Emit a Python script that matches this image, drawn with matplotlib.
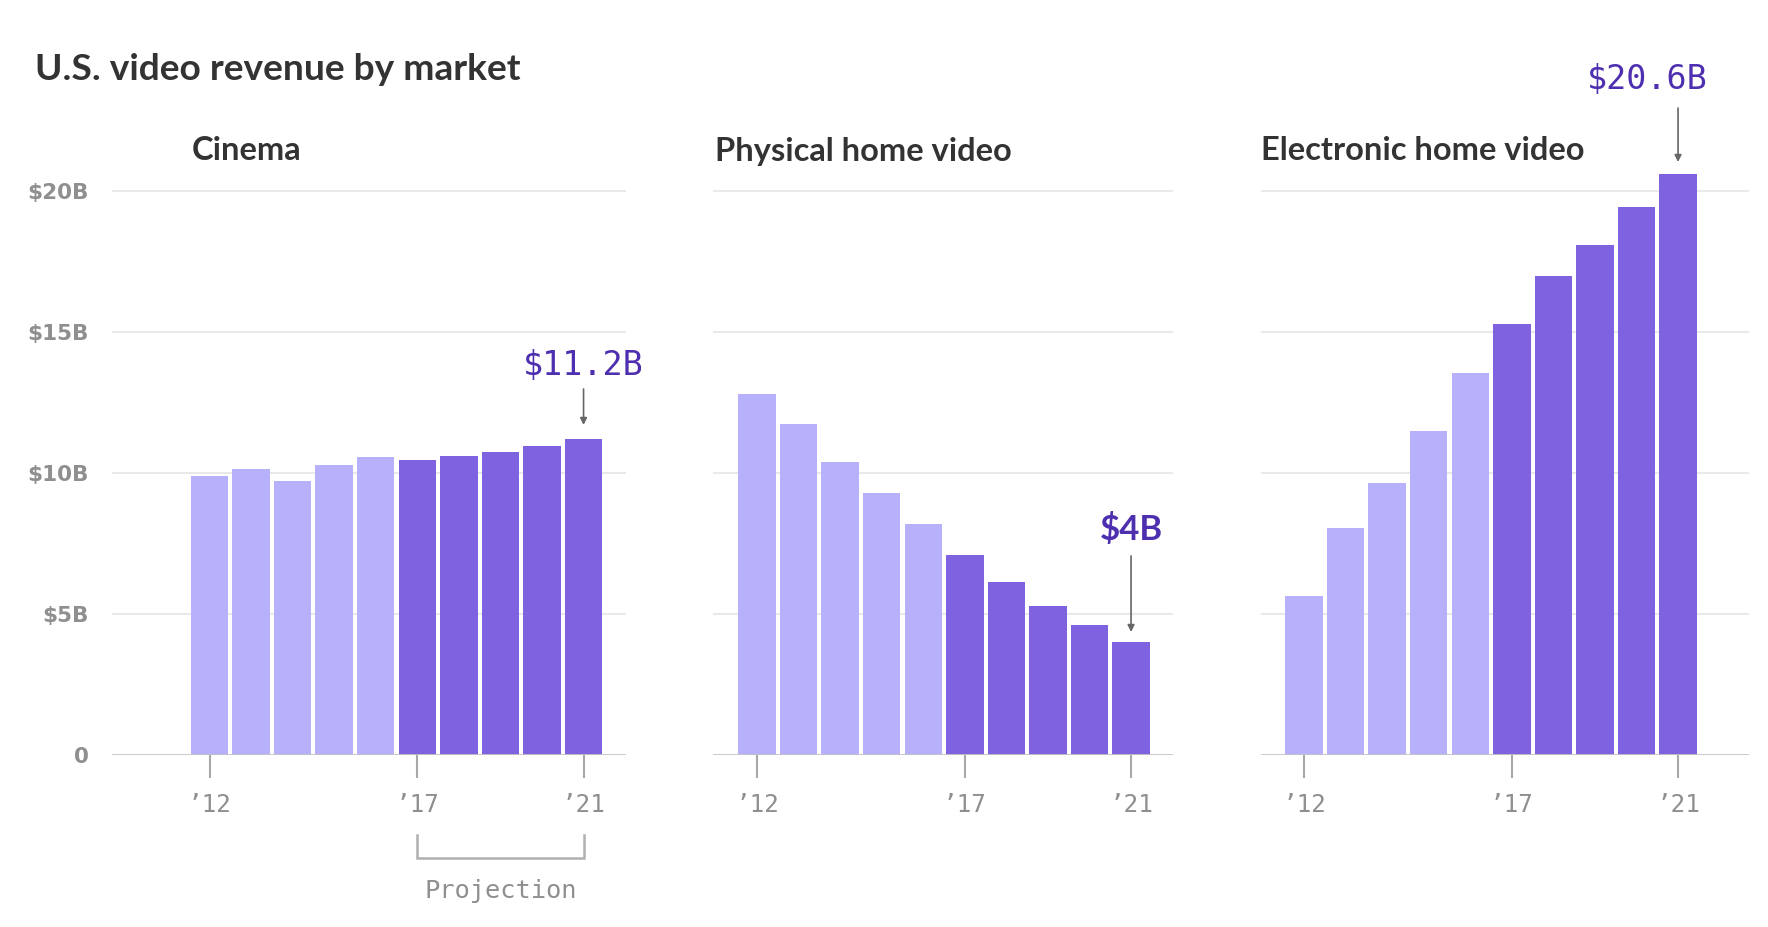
import matplotlib
matplotlib.use("Agg")
import matplotlib.pyplot as plt

# ---- data ----
years = [2012, 2013, 2014, 2015, 2016, 2017, 2018, 2019, 2020, 2021]
cinema = [9.9, 10.15, 9.7, 10.3, 10.55, 10.45, 10.6, 10.75, 10.95, 11.2]
physical = [12.8, 11.75, 10.4, 9.3, 8.2, 7.1, 6.15, 5.3, 4.6, 4.0]
electronic = [5.65, 8.05, 9.65, 11.5, 13.55, 15.3, 17.0, 18.1, 19.45, 20.6]
projection_start = 2017
panel_titles = ["Cinema", "Physical home video", "Electronic home video"]
annotations = ["$11.2B", "$4B", "$20.6B"]
y_ticks = [0, 5, 10, 15, 20]
y_ticklabels = ["0", "$5B", "$10B", "$15B", "$20B"]
x_ticks = [2012, 2017, 2021]
x_ticklabels = ["\u201912", "\u201917", "\u201921"]
title = "U.S. video revenue by market"

# ---- style ----
W, H = 1768, 927
DPI = 100
LIGHT = "#b7b0fa"
DARK = "#7f62df"
ANNO = "#4e2fb0"
GRID = "#e9e9e9"
BASE = "#c4c4c4"
TICKC = "#a8a8a8"
LABELC = "#8f8f8f"
TEXTC = "#333333"
ARROWC = "#666666"
MONO = "DejaVu Sans Mono"
SANS = "Lato"

fig = plt.figure(figsize=(W / DPI, H / DPI), dpi=DPI)
fig.patch.set_facecolor("white")

def fx(px):
    return px / W

def fy(py):
    return 1 - py / H

pitch = 41.56
y0_px = 755
px_per_unit = 28.2
ytop = 22.0

def px2val(py):
    return (y0_px - py) / px_per_unit

# panel layout (pixels): left, right, x pixel of first bar centre
panels = [(112, 626, 209.5), (713, 1173, 757), (1261, 1749, 1304)]
series = [cinema, physical, electronic]
# text x, text y, arrow tail y, arrow tip y (pixels)
anno_pos = [(583.5, 365, 389, 425), (1131, 530, 556, 632), (1647, 80, 108, 162)]
anno_sizes = [24, 25, 24]

axes = []
for i, ((l, r, c0), vals) in enumerate(zip(panels, series)):
    bottom = fy(y0_px)
    height = ytop * px_per_unit / H
    ax = fig.add_axes([fx(l), bottom, fx(r - l), height])
    axes.append(ax)
    xmin = years[0] - (c0 - l) / pitch
    xmax = years[0] + (r - c0) / pitch
    ax.set_xlim(xmin, xmax)
    ax.set_ylim(0, ytop)
    colors = [LIGHT if y < projection_start else DARK for y in years]
    ax.bar(years, vals, width=0.9, color=colors, zorder=3, linewidth=0)
    for s in ["top", "right", "left", "bottom"]:
        ax.spines[s].set_visible(False)
    for t in y_ticks[1:]:
        ax.axhline(t, color=GRID, lw=1.5, zorder=1)
    ax.axhline(0, color=BASE, lw=2, zorder=4)
    ax.set_yticks(y_ticks)
    if i == 0:
        ax.set_yticklabels(y_ticklabels, fontsize=15.5, color=LABELC,
                           family="DejaVu Sans", fontweight="bold")
        ax.tick_params(axis="y", length=0, pad=17)
    else:
        ax.set_yticklabels([])
        ax.tick_params(axis="y", length=0)
    ax.set_xticks(x_ticks)
    ax.set_xticklabels(x_ticklabels, fontsize=17.5, color=LABELC, family=MONO)
    ax.tick_params(axis="x", length=16.5, width=1.5, color=TICKC, pad=10.5)
    ax.set_facecolor("none")

    # annotation
    tx, ty, tail_px, tip_px = anno_pos[i]
    fam = SANS if i == 1 else MONO
    fig.text(fx(tx), fy(ty), annotations[i], ha="center", va="center",
             fontsize=anno_sizes[i], color=ANNO, family=fam,
             fontweight="bold" if i == 1 else "normal")
    ax.annotate("", xy=(years[-1], px2val(tip_px)), xytext=(years[-1], px2val(tail_px)),
                arrowprops=dict(arrowstyle="-|>", color=ARROWC, lw=1.2,
                                mutation_scale=10, shrinkA=0, shrinkB=0),
                annotation_clip=False, zorder=5)

# panel titles
title_x = [192, 715, 1261]
for t, x in zip(panel_titles, title_x):
    fig.text(fx(x), fy(151), t, ha="left", va="center", fontsize=23.5,
             color=TEXTC, family=SANS, fontweight="bold")

# main title
fig.text(fx(35), fy(70), title, ha="left", va="center", fontsize=26.7,
         color=TEXTC, family=SANS, fontweight="bold")

# projection bracket (cinema panel)
ax = axes[0]
trans = ax.get_xaxis_transform()
yb1 = (y0_px - 835) / (ytop * px_per_unit)
yb2 = (y0_px - 858) / (ytop * px_per_unit)
ax.plot([projection_start, projection_start, years[-1], years[-1]],
        [yb1, yb2, yb2, yb1], transform=trans, color="#b0b0b0", lw=1.8,
        clip_on=False, solid_joinstyle="miter")
ax.text((projection_start + years[-1]) / 2, (y0_px - 891) / (ytop * px_per_unit),
        "Projection", transform=trans, ha="center", va="center",
        fontsize=18.3, color=LABELC, family=MONO)

fig.savefig("out.png", dpi=DPI, facecolor="white")
